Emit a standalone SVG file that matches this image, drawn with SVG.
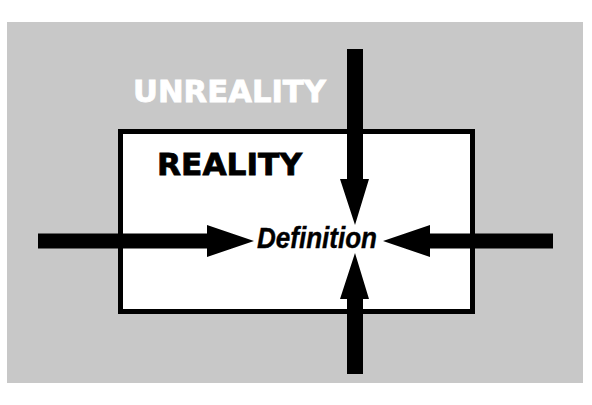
<svg xmlns="http://www.w3.org/2000/svg" width="592" height="405" viewBox="0 0 592 405">
<style>
.lbl{font-family:"DejaVu Sans","Liberation Sans",Arial,sans-serif;font-weight:bold}
.arrow{fill:#000}
</style>
<rect x="0" y="0" width="592" height="405" fill="#fff"/>
<g id="unreality">
<rect x="7" y="22" width="576" height="361" fill="#c8c8c8"/>
<text class="lbl" x="133" y="102" font-size="30" fill="#fff" stroke="#fff" stroke-width="0.8" textLength="193" lengthAdjust="spacingAndGlyphs">UNREALITY</text>
</g>
<g id="reality">
<rect x="120.5" y="131.5" width="352" height="180" fill="#fff" stroke="#000" stroke-width="5"/>
<text class="lbl" x="157" y="175" font-size="31" fill="#000" stroke="#000" stroke-width="0.8" textLength="145" lengthAdjust="spacingAndGlyphs">REALITY</text>
</g>
<g id="definition">
<text x="257" y="247.5" font-family="'Liberation Sans',Arial,sans-serif" font-weight="bold" font-style="italic" font-size="29" fill="#000" stroke="#000" stroke-width="0.4" textLength="120" lengthAdjust="spacingAndGlyphs">Definition</text>
</g>
<g id="connectors">
<polygon class="arrow" points="38,233.5 207,233.5 207,225 254,241 207,257 207,248.5 38,248.5"/>
<polygon class="arrow" points="553,233.5 430,233.5 430,225 383,241 430,257 430,248.5 553,248.5"/>
<polygon class="arrow" points="347,49 363,49 363,179 369,179 355,225 340,179 347,179"/>
<polygon class="arrow" points="347,374 363,374 363,299 369,299 355,253 340,299 347,299"/>
</g>
</svg>
